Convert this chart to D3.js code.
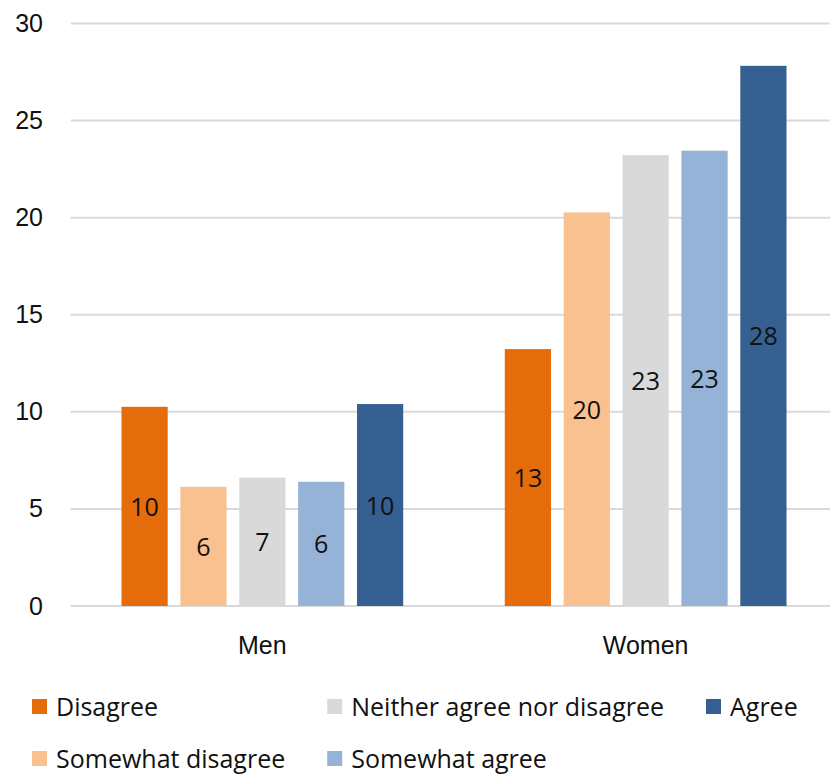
<!DOCTYPE html>
<html>
<head>
<meta charset="utf-8">
<script src="https://cdn.jsdelivr.net/npm/d3@7"></script>
<style>
  body { margin: 0; background: #fff; }
  svg { display: block; font-family: "Open Sans", "Noto Sans", sans-serif; }
  .tick text { fill: #111; }
</style>
</head>
<body>
<script>
// chart data
var groups = ["Men", "Women"];
var series = [
  "Disagree",
  "Somewhat disagree",
  "Neither agree nor disagree",
  "Somewhat agree",
  "Agree",
];
var menValues = [10.26, 6.14, 6.61, 6.4, 10.4];
var womenValues = [13.23, 20.27, 23.22, 23.45, 27.82];
var seriesColors = ["#e46c0a", "#f9c090", "#d9d9d9", "#95b3d7", "#366092"];
var yTicks = [0, 5, 10, 15, 20, 25, 30];

var width = 830,
  height = 776,
  fontSize = 25;

var svg = d3
  .select("body")
  .append("svg")
  .attr("width", width)
  .attr("height", height);

// plot area runs a bit past the right edge, like the original crop
var x0 = d3
  .scaleBand()
  .domain(groups)
  .range([70.7, 837.3])
  .paddingInner(0.265)
  .paddingOuter(0.1325);

var x1 = d3
  .scaleBand()
  .domain(series)
  .range([0, x0.bandwidth()])
  .paddingInner(0.215);

var y = d3.scaleLinear().domain([0, 30]).range([606, 23.5]);

var color = d3.scaleOrdinal().domain(series).range(seriesColors);

// gridlines
svg
  .append("g")
  .selectAll("line")
  .data(yTicks)
  .enter()
  .append("line")
  .attr("x1", 70.7)
  .attr("x2", width)
  .attr("y1", (d) => y(d))
  .attr("y2", (d) => y(d))
  .attr("stroke", "#d9d9d9")
  .attr("stroke-width", 2);

// y axis labels only
var yAxis = d3.axisLeft(y).tickValues(yTicks).tickSize(0).tickPadding(0);
svg
  .append("g")
  .attr("transform", "translate(43,0)")
  .call(yAxis)
  .call((g) => g.select(".domain").remove())
  .selectAll("text")
  .attr("font-size", fontSize)
  .attr("font-family", null);

// category labels
var xAxis = d3.axisBottom(x0).tickSize(0).tickPadding(0);
svg
  .append("g")
  .attr("transform", "translate(0,635)")
  .call(xAxis)
  .call((g) => g.select(".domain").remove())
  .selectAll("text")
  .attr("font-size", fontSize)
  .attr("font-family", null)
  .attr("dy", "0.75em");

var tableData = groups.map((g, i) => ({
  group: g,
  values: series.map((s, j) => ({
    key: s,
    value: (i === 0 ? menValues : womenValues)[j],
  })),
}));

var groupSel = svg
  .append("g")
  .selectAll("g")
  .data(tableData)
  .enter()
  .append("g")
  .attr("transform", (d) => "translate(" + x0(d.group) + ",0)");

groupSel
  .selectAll("rect")
  .data((d) => d.values)
  .enter()
  .append("rect")
  .attr("x", (d) => x1(d.key))
  .attr("width", x1.bandwidth())
  .attr("y", (d) => y(d.value))
  .attr("height", (d) => y(0) - y(d.value))
  .attr("fill", (d) => color(d.key));

// value labels, centered inside bars
var fmt = d3.format(".0f");
groupSel
  .selectAll("text")
  .data((d) => d.values)
  .enter()
  .append("text")
  .attr("x", (d) => x1(d.key) + x1.bandwidth() / 2)
  .attr("y", (d) => (y(d.value) + y(0)) / 2)
  .attr("dy", "0.38em")
  .attr("text-anchor", "middle")
  .attr("font-size", fontSize)
  .attr("fill", "#111")
  .text((d) => fmt(d.value));

// legend, filled column by column in two rows
var legendRows = [707, 759];
var legend = svg.append("g");
var colX = 56;
var nCols = Math.ceil(series.length / 2);
for (var c = 0; c < nCols; c++) {
  var maxW = 0;
  for (var r = 0; r < 2; r++) {
    var idx = c * 2 + r;
    if (idx >= series.length) continue;
    var item = legend.append("g");
    item
      .append("rect")
      .attr("x", colX - 24)
      .attr("y", legendRows[r] - 8)
      .attr("width", 15)
      .attr("height", 15)
      .attr("fill", seriesColors[idx]);
    var t = item
      .append("text")
      .attr("x", colX)
      .attr("y", legendRows[r])
      .attr("dy", "0.35em")
      .attr("font-size", fontSize)
      .attr("fill", "#111")
      .text(series[idx]);
    maxW = Math.max(maxW, t.node().getComputedTextLength());
  }
  colX += maxW + 66;
}
</script>
</body>
</html>
